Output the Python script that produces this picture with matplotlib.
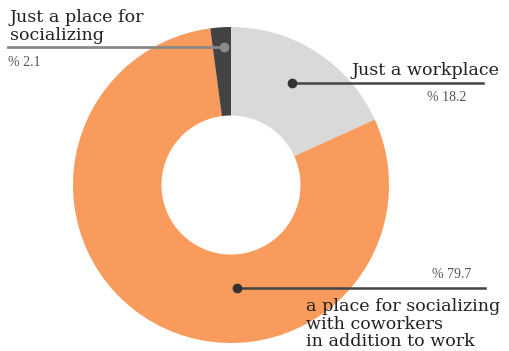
import matplotlib.pyplot as plt

# data
labels = ['Just a workplace',
          'a place for socializing\nwith coworkers\nin addition to work',
          'Just a place for\nsocializing']
values = [18.2, 79.7, 2.1]
colors = ['#d9d9d9', '#f89b5c', '#434343']

W, H = 510, 351


def py(y):
    # pixel y (from top) -> data y
    return H - y


fig = plt.figure(figsize=(W / 100, H / 100), dpi=100)
ax = fig.add_axes([0, 0, 1, 1])
ax.set_xlim(0, W)
ax.set_ylim(0, H)
ax.set_aspect('equal')
ax.axis('off')

cx, cy, R = 231, py(185), 158
ax.pie(values, colors=colors, startangle=90, counterclock=False,
       center=(cx, cy), radius=R,
       wedgeprops=dict(width=R * 0.56, edgecolor='none'))
ax.set_xlim(0, W)
ax.set_ylim(0, H)

serif = 'DejaVu Serif'
txt = dict(family=serif, fontsize=12.6, color='#222222')
pct = dict(family='Liberation Serif', fontsize=10, color='#555555')

# Just a place for socializing
ax.plot([8, 224], [py(47), py(47)], color='#8a8a8a', lw=2, zorder=3)
ax.plot(224, py(47), 'o', color='#8a8a8a', ms=6, zorder=4)
ax.text(10, py(40), labels[2], ha='left', va='baseline', linespacing=1.05,
        **txt)
ax.text(8, py(62), f'% {values[2]}', ha='left', va='center', **pct)

# Just a workplace
ax.plot([292, 483], [py(83), py(83)], color='#444444', lw=1.8, zorder=3)
ax.plot(292, py(83), 'o', color='#333333', ms=6, zorder=4)
ax.text(352, py(79), labels[0], ha='left', va='bottom', **txt)
ax.text(447, py(98), f'% {values[0]}', ha='center', va='center', **pct)

# a place for socializing with coworkers
ax.plot([237, 485], [py(288), py(288)], color='#444444', lw=1.8, zorder=3)
ax.plot(237, py(288), 'o', color='#333333', ms=6, zorder=4)
ax.text(452, py(275), f'% {values[1]}', ha='center', va='center', **pct)
ax.text(306, py(298), labels[1], ha='left', va='top', linespacing=1.05, **txt)

fig.savefig('out.png', dpi=100)
